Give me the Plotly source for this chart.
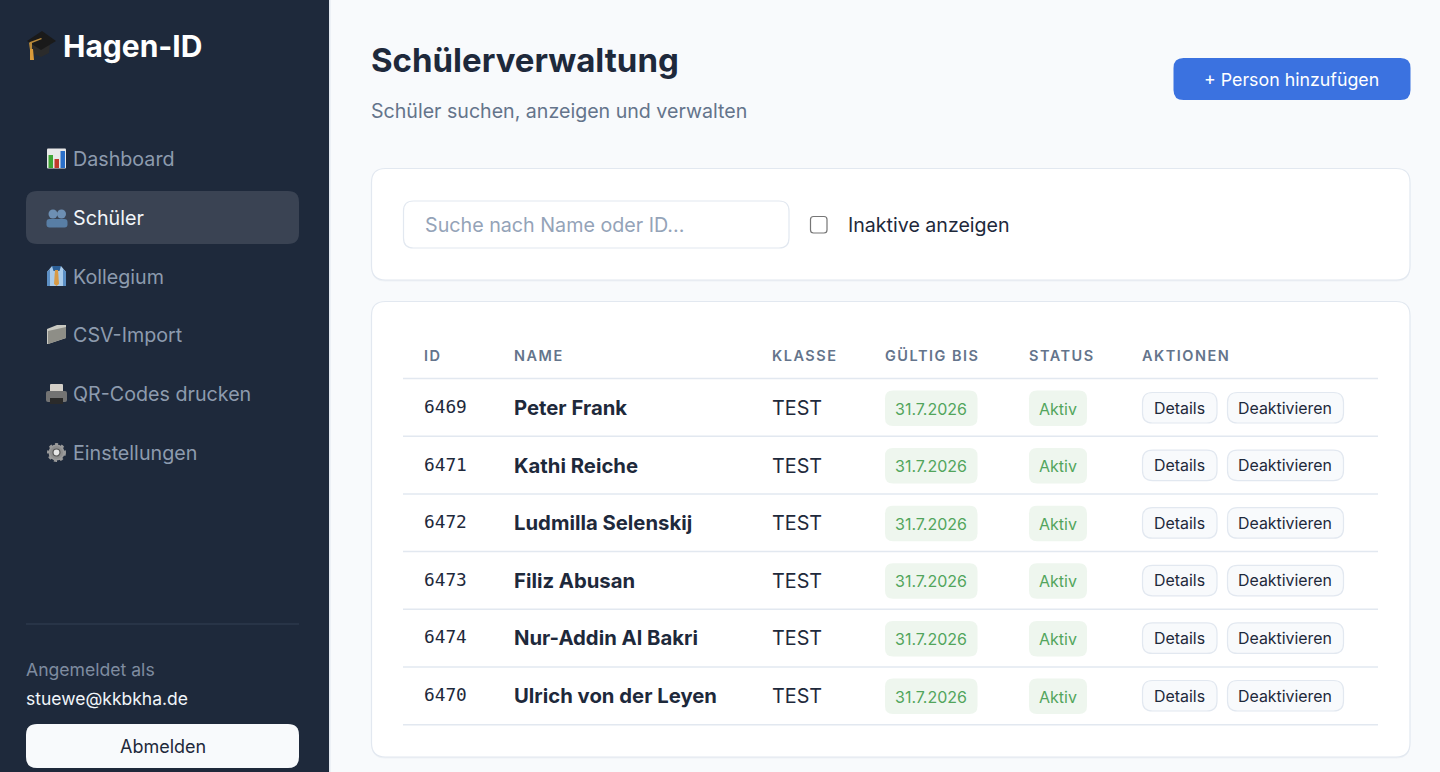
import plotly.graph_objects as go

# table content
columns = ["ID", "NAME", "KLASSE", "GÜLTIG BIS", "STATUS", "AKTIONEN"]
ids = ["6469", "6471", "6472", "6473", "6474", "6470"]
names = ["Peter Frank", "Kathi Reiche", "Ludmilla Selenskij", "Filiz Abusan",
         "Nur-Addin Al Bakri", "Ulrich von der Leyen"]
klassen = ["TEST", "TEST", "TEST", "TEST", "TEST", "TEST"]
gueltig = ["31.7.2026", "31.7.2026", "31.7.2026", "31.7.2026", "31.7.2026", "31.7.2026"]
status = ["Aktiv", "Aktiv", "Aktiv", "Aktiv", "Aktiv", "Aktiv"]
actions = ["Details", "Deaktivieren"]
nav_items = ["Dashboard", "Schüler", "Kollegium", "CSV-Import", "QR-Codes drucken", "Einstellungen"]

FONT = "Inter"
DARK = "#1e293b"
GREEN = "#52a55c"
shapes = []
annotations = []


def rrect(x0, y0, x1, y1, r, fill, line=None, width=1):
    p = (f"M{x0+r},{y0} L{x1-r},{y0} Q{x1},{y0} {x1},{y0+r} L{x1},{y1-r} Q{x1},{y1} {x1-r},{y1} "
         f"L{x0+r},{y1} Q{x0},{y1} {x0},{y1-r} L{x0},{y0+r} Q{x0},{y0} {x0+r},{y0} Z")
    shapes.append(dict(type="path", path=p, fillcolor=fill,
                       line=dict(color=line or fill, width=width if line else 0)))


def rect(x0, y0, x1, y1, fill):
    shapes.append(dict(type="rect", x0=x0, y0=y0, x1=x1, y1=y1, fillcolor=fill, line_width=0))


def poly(points, fill):
    p = "M" + " L".join(f"{a},{b}" for a, b in points) + " Z"
    shapes.append(dict(type="path", path=p, fillcolor=fill, line_width=0))


def circle(cx, cy, r, fill, line=None, width=0, dash=None):
    shapes.append(dict(type="circle", x0=cx-r, y0=cy-r, x1=cx+r, y1=cy+r, fillcolor=fill,
                       line=dict(color=line or fill, width=width, dash=dash or "solid")))


def hline(x0, x1, y, color, width):
    shapes.append(dict(type="line", x0=x0, x1=x1, y0=y, y1=y, line=dict(color=color, width=width)))


def label(x, y, text, size, color, weight=400, anchor="left", family=FONT):
    annotations.append(dict(x=x, y=y, text=text, showarrow=False, xanchor=anchor, yanchor="middle",
                            xref="x", yref="y", borderpad=0, borderwidth=0,
                            font=dict(family=family, size=size, color=color, weight=weight)))


# sidebar
rect(0, 0, 329, 772, DARK)
rect(329, 0, 330.5, 772, "#e2e8f0")

# mortarboard
poly([(32, 53), (31, 43), (41, 49), (50, 43), (49, 53), (41, 57)], "#2b2b2b")
poly([(27, 41), (42, 31), (56, 41), (41, 50)], "#1a1a1a")
poly([(29, 43), (30, 42), (41, 38), (42, 39), (32, 43), (32, 50), (30, 50)], "#b98a3a")
poly([(30, 49), (33, 49), (34, 60), (30, 60)], "#d99a3a")
label(63, 45.5, "Hagen-ID", 30, "#ffffff", 700)

# nav icons
nav_y = [159 + 58.75 * i for i in range(len(nav_items))]
rrect(47, 148.5, 66, 168.5, 1, "#e8e8e8")
rect(48.5, 155, 53, 168, "#3fa535")
rect(54.5, 159, 59, 168, "#c0392b")
rect(60.5, 151, 65, 168, "#2a6fc9")

rrect(26, 191, 299, 244, 11, "#3a4353")
for cx in (53, 61.5):
    circle(cx, 214, 4.5, "#6d8fb3")
    rrect(cx - 6.5, 219, cx + 6, 227.5, 3, "#587ea5")

poly([(47, 272), (52, 266), (61, 266), (66, 272), (66, 286), (47, 286)], "#a9cbea")
poly([(47, 272), (50, 269), (50, 286), (47, 286)], "#5c8fc4")
poly([(66, 272), (63, 269), (63, 286), (66, 286)], "#5c8fc4")
poly([(52, 266), (61, 266), (59.5, 271), (53.5, 271)], "#2c5f96")
poly([(55, 270), (58, 270), (59, 284), (56.5, 286), (54, 284)], "#d89a45")

poly([(47, 329), (57, 325), (66, 325), (66, 338), (48, 344), (47, 344)], "#c9c9c2")
poly([(48, 331), (66, 327), (66, 338), (48, 344)], "#8e8e87")

rrect(50, 384, 63, 393, 1, "#d3cfc8")
rrect(46, 391, 67, 402, 2, "#737373")
rect(50, 398, 63, 404, "#2a2a2a")

circle(56.5, 452.5, 8, "#9a9a9a", "#9a9a9a", 3, "dot")
circle(56.5, 452.5, 6.5, "#8d8d8d")
circle(56.5, 452.5, 3.5, "#e6e6e6", "#555555", 1.2)

for i, item in enumerate(nav_items):
    label(72.5, nav_y[i], item, 19.7, "#f1f5f9" if item == "Schüler" else "#8d9bae")

hline(26, 299, 624, "#334155", 1)
label(26, 669.5, "Angemeldet als", 17.6, "#7f8ca0")
label(26, 698.5, "stuewe@kkbkha.de", 17.5, "#f1f5f9")
rrect(26, 724, 299, 768, 11, "#f8fafc")
label(162.5, 746, "Abmelden", 18, DARK, 400, "center")

# header
label(371, 60, "Schülerverwaltung", 33, DARK, 700)
label(371, 111, "Schüler suchen, anzeigen und verwalten", 19.6, "#64748b")
rrect(1173.5, 58, 1410.5, 100, 10, "#3b72e0")
label(1291.5, 79.5, "+ Person hinzufügen", 17.8, "#ffffff", 400, "center")

# search card
rrect(371.5, 169.5, 1410, 281.5, 14, "#eef1f5")
rrect(371.5, 168.5, 1410, 280, 14, "#ffffff", "#e2e8f0", 1.2)
rrect(403.5, 201, 789, 248, 10, "#ffffff", "#e2e8f0", 1.2)
label(425, 225, "Suche nach Name oder ID...", 19.7, "#94a3b8")
rrect(810.5, 216.5, 827, 233, 3, "#ffffff", "#767676", 1.2)
label(848, 224.5, "Inaktive anzeigen", 19.6, DARK)

# table card
rrect(371.5, 302.5, 1410, 758.5, 14, "#eef1f5")
rrect(371.5, 301.5, 1410, 757, 14, "#ffffff", "#e2e8f0", 1.2)
col_x = [424, 514, 772, 885, 1029, 1142]
for x, col in zip(col_x, columns):
    label(x, 355.5, f'<span style="letter-spacing:1.5px">{col}</span>', 14.5, "#64748b", 600)

row_y = [408 + 57.6 * i for i in range(len(ids))]
for i in range(len(ids) + 1):
    hline(403, 1378, 378.5 + 57.7 * i, "#e2e8f0", 1.5)

for i, y in enumerate(row_y):
    label(424, y - 1.5, ids[i], 17.8, DARK, 400, family="DejaVu Sans Mono")
    label(514, y - 0.5, names[i], 20.3, DARK, 700)
    label(772, y, klassen[i], 19.8, DARK)
    rrect(885, y - 17.5, 977.5, y + 18, 8, "#eef6ee")
    label(931.2, y + 0.5, gueltig[i], 16, GREEN, 400, "center")
    rrect(1029, y - 17.5, 1087, y + 18, 8, "#eef6ee")
    label(1058, y + 0.5, status[i], 16, GREEN, 400, "center")
    rrect(1142.5, y - 15.5, 1217, y + 15, 10, "#f8fafc", "#e2e8f0", 1.2)
    label(1179, y, actions[0], 15.9, DARK, 400, "center")
    rrect(1227.5, y - 15.5, 1343.5, y + 15, 10, "#f8fafc", "#e2e8f0", 1.2)
    label(1284.5, y, actions[1], 15.9, DARK, 400, "center")

fig = go.Figure()
fig.update_layout(
    width=1440, height=772,
    margin=dict(l=0, r=0, t=0, b=0),
    paper_bgcolor="#f8fafc", plot_bgcolor="#f8fafc",
    xaxis=dict(range=[0, 1440], visible=False, fixedrange=True),
    yaxis=dict(range=[772, 0], visible=False, fixedrange=True),
    shapes=shapes, annotations=annotations, showlegend=False,
)

fig.write_html("out.html", config={"displayModeBar": False},
               post_script="document.body.style.margin='0';document.body.style.overflow='hidden';")
